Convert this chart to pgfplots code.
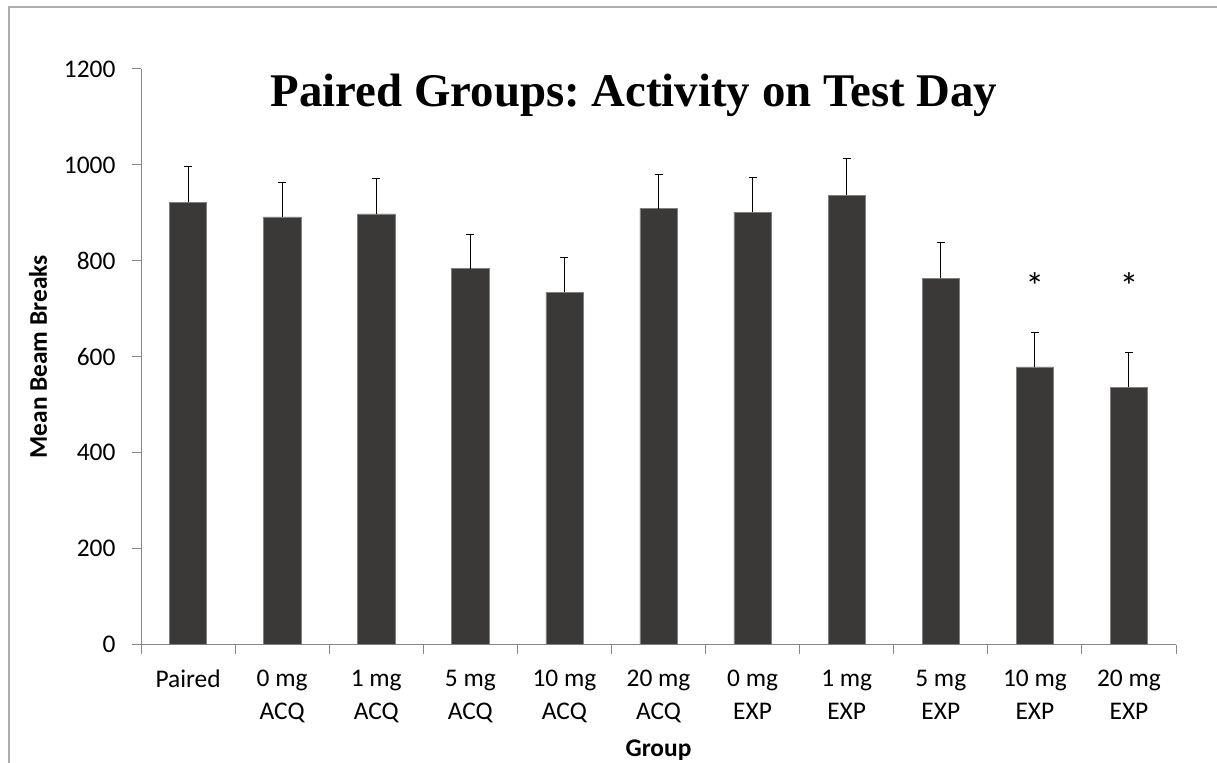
\documentclass[border=0pt]{standalone}
\usepackage{pgfplots}
\pgfplotsset{compat=1.18}
\usepackage{pgfplotstable}
\usepackage{fontspec}
\setmainfont{Carlito}
\newfontfamily\titlefont{Liberation Serif}
\definecolor{barfill}{RGB}{58,57,55}
\definecolor{axgray}{RGB}{134,134,134}
\definecolor{framegray}{RGB}{173,173,173}
\frenchspacing

\pgfplotstableread{
x y e
0 922 74
1 892 72
2 898 73
3 784 72
4 735 72
5 909 72
6 901 72
7 937 76
8 764 74
9 579 72
10 537 73
}\datatable

\begin{document}
\begin{tikzpicture}[x=1bp,y=1bp]
\path[use as bounding box] (0,0) rectangle (1217,763);
\draw[framegray, line width=2bp] (8.5,0) -- (8.5,756) -- (1217,756);
\begin{axis}[
  at={(141bp,118.3bp)}, anchor=south west,
  scale only axis, width=1035bp, height=575.7bp,
  xmin=-0.5, xmax=10.5, ymin=0, ymax=1200,
  axis x line*=bottom, axis y line*=left,
  axis line style={axgray, line width=1bp, -},
  tick style={axgray, line width=1bp},
  tick align=outside, major tick length=9bp,
  xtick={-0.5,0.5,1.5,2.5,3.5,4.5,5.5,6.5,7.5,8.5,9.5,10.5},
  x tick label as interval,
  xticklabels={Paired,{0 mg\\ACQ},{1 mg\\ACQ},{5 mg\\ACQ},{10 mg\\ACQ},{20 mg\\ACQ},{0 mg\\EXP},{1 mg\\EXP},{5 mg\\EXP},{10 mg\\EXP},{20 mg\\EXP}},
  xticklabel style={align=center, anchor=north, yshift=-13bp},
  ytick={0,200,...,1200},
  yticklabel style={xshift=-13bp},
  /pgf/number format/assume math mode=true,
  /pgf/number format/1000 sep={},
  tick label style={font=\fontsize{25.5}{33}\selectfont, text=black},
  xlabel={Group},
  xlabel style={at={(axis description cs:0.5,-0.184)}, anchor=center, font=\bfseries\fontsize{25.5}{30}\selectfont},
  ylabel={Mean Beam Breaks},
  ylabel style={at={(axis description cs:-0.0995,0.5)}, anchor=center, font=\bfseries\fontsize{25.5}{30}\selectfont},
  ybar, bar width=37.3bp,
]
\addplot[ybar, fill=barfill, draw=gray, line width=0.5bp,
  error bars/.cd, y dir=plus, y explicit,
  error bar style={black, line width=1bp},
  error mark options={black, line width=1bp, mark size=4bp, rotate=90}]
  table[x=x, y=y, y error=e] {\datatable};
\node[font=\fontsize{38}{40}\selectfont, anchor=base] at (axis cs:9,720) {*};
\node[font=\fontsize{38}{40}\selectfont, anchor=base] at (axis cs:10,720) {*};
\end{axis}
\node[font=\titlefont\bfseries\fontsize{47}{56}\selectfont, anchor=base] at (634,656.3) {Paired Groups: Activity on Test Day};
\end{tikzpicture}
\end{document}
